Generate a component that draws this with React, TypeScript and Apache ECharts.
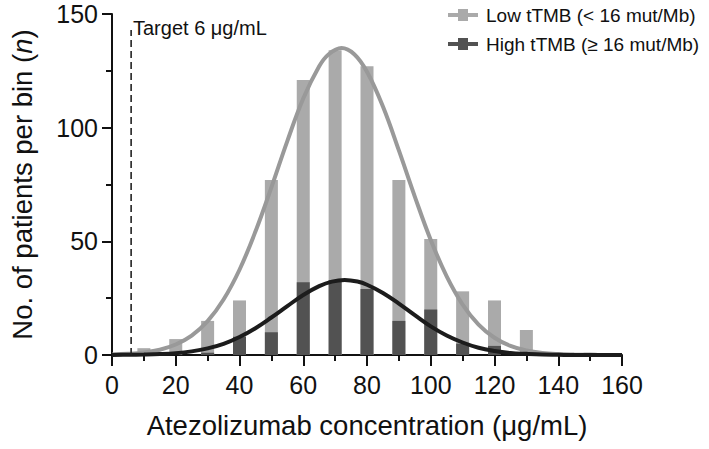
import React, { useEffect, useRef } from "react";
import * as echarts from "echarts";

const binCenters = [10, 20, 30, 40, 50, 60, 70, 80, 90, 100, 110, 120, 130, 140, 150];
const lowCounts = [3, 7, 15, 24, 77, 121, 134, 127, 77, 51, 28, 24, 11, 0, 1];
const highCounts = [0, 0, 1, 8, 10, 32, 33, 29, 15, 20, 5, 4, 0, 0, 0];

const lowCurveX = [0, 5, 10, 15, 20, 25, 30, 35, 40, 45, 50, 55, 60, 65, 68, 72, 76, 80, 85, 90, 95, 100, 105, 110, 115, 120, 125, 130, 135, 140, 145, 150, 155, 160];
const lowFit = [0.2, 0.5, 1.1, 2.3, 4.6, 8.5, 14.9, 24.4, 37.5, 54.3, 73.7, 94.1, 112.8, 127, 132.3, 135, 132.3, 124.6, 109.3, 90, 69.7, 50.6, 34.6, 22.2, 13.4, 7.6, 4, 2, 0.9, 0.4, 0.2, 0.1, 0, 0];
const highCurveX = [0, 5, 10, 15, 20, 25, 30, 35, 40, 45, 50, 55, 60, 65, 69, 73, 77, 80, 85, 90, 95, 100, 105, 110, 115, 120, 125, 130, 135, 140, 145, 150, 155, 160];
const highFit = [0, 0.1, 0.2, 0.4, 0.8, 1.6, 2.9, 4.9, 7.9, 11.8, 16.5, 21.5, 26.4, 30.3, 32.3, 33, 32.3, 30.9, 27.3, 22.6, 17.5, 12.6, 8.6, 5.5, 3.2, 1.8, 0.9, 0.5, 0.2, 0.1, 0, 0, 0, 0];

const targetX = 6;
const targetTop = 143;

const seriesNames = ["Low tTMB (< 16 mut/Mb)", "High tTMB (≥ 16 mut/Mb)"];

const FONT = "'Liberation Sans', Arial, Helvetica, sans-serif";

export default function App() {
  const ref = useRef<HTMLDivElement>(null);
  useEffect(() => {
    if (!ref.current) return;
    const chart = echarts.init(ref.current, null, { renderer: "svg" });
    const pair = (xs: number[], ys: number[]) => xs.map((x, i) => [x, ys[i]]);
    const iconPath =
      "path://M0,4 L10,4 L10,0 L20,0 L20,4 L30,4 L30,8 L20,8 L20,12 L10,12 L10,8 L0,8 Z";
    chart.setOption({
      animation: false,
      textStyle: { fontFamily: FONT },
      grid: { left: 109, right: 87, top: 14, bottom: 94 },
      legend: {
        orient: "vertical",
        left: 443,
        top: 0,
        itemWidth: 30,
        itemHeight: 12,
        itemGap: 9,
        data: seriesNames.map((n) => ({ name: n, icon: iconPath })),
        textStyle: { fontSize: 19, color: "#111", fontFamily: FONT, lineHeight: 20, padding: [0, 0, 0, 3] },
      },
      xAxis: {
        type: "value",
        min: 0,
        max: 160,
        interval: 20,
        name: "Atezolizumab concentration (μg/mL)",
        nameLocation: "middle",
        nameGap: 56,
        nameTextStyle: { fontSize: 27.5, color: "#111", fontFamily: FONT },
        axisLine: { show: true, lineStyle: { color: "#111", width: 2 } },
        axisTick: { show: true, length: 11, lineStyle: { color: "#111", width: 2 } },
        minorTick: { show: true, splitNumber: 2, length: 6, lineStyle: { color: "#111", width: 2 } },
        splitLine: { show: false },
        axisLabel: { fontSize: 25, color: "#111", margin: 17, fontFamily: FONT },
      },
      yAxis: {
        type: "value",
        min: 0,
        max: 150,
        interval: 50,
        name: "No. of patients per bin ({i|n})",
        nameLocation: "middle",
        nameGap: 76,
        nameTextStyle: {
          fontSize: 27.5,
          color: "#111",
          fontFamily: FONT,
          rich: { i: { fontStyle: "italic", fontSize: 27.5, color: "#111", fontFamily: FONT } },
        },
        axisLine: { show: true, lineStyle: { color: "#111", width: 2 } },
        axisTick: { show: true, length: 10, lineStyle: { color: "#111", width: 2 } },
        minorTick: { show: true, splitNumber: 2, length: 6, lineStyle: { color: "#111", width: 2 } },
        splitLine: { show: false },
        axisLabel: { fontSize: 25, color: "#111", margin: 14, fontFamily: FONT },
      },
      series: [
        {
          name: seriesNames[0],
          type: "bar",
          barWidth: 13,
          barGap: "-100%",
          itemStyle: { color: "#aaaaaa" },
          data: pair(binCenters, lowCounts),
          z: 1,
        },
        {
          name: seriesNames[1],
          type: "bar",
          barWidth: 13,
          barGap: "-100%",
          itemStyle: { color: "#525252" },
          data: pair(binCenters, highCounts),
          z: 2,
        },
        {
          name: "lowFit",
          type: "line",
          smooth: 0.4,
          symbol: "none",
          lineStyle: { color: "#999999", width: 4 },
          data: pair(lowCurveX, lowFit),
          z: 3,
        },
        {
          name: "highFit",
          type: "line",
          smooth: 0.4,
          symbol: "none",
          lineStyle: { color: "#1c1c1c", width: 4 },
          data: pair(highCurveX, highFit),
          z: 4,
        },
        {
          name: "target",
          type: "line",
          symbol: "none",
          lineStyle: { color: "#222", width: 1.6, type: [7, 4] },
          data: [
            [targetX, 0],
            [targetX, targetTop],
          ],
          z: 5,
        },
      ],
      graphic: [
        {
          type: "text",
          left: 133,
          top: 18,
          style: { text: "Target 6 μg/mL", fontSize: 20, fill: "#111", fontFamily: FONT },
        },
      ],
    });
    return () => chart.dispose();
  }, []);
  return (
    <div
      ref={ref}
      style={{ position: "absolute", left: 0, top: 0, width: 709, height: 449, background: "#fff" }}
    />
  );
}
